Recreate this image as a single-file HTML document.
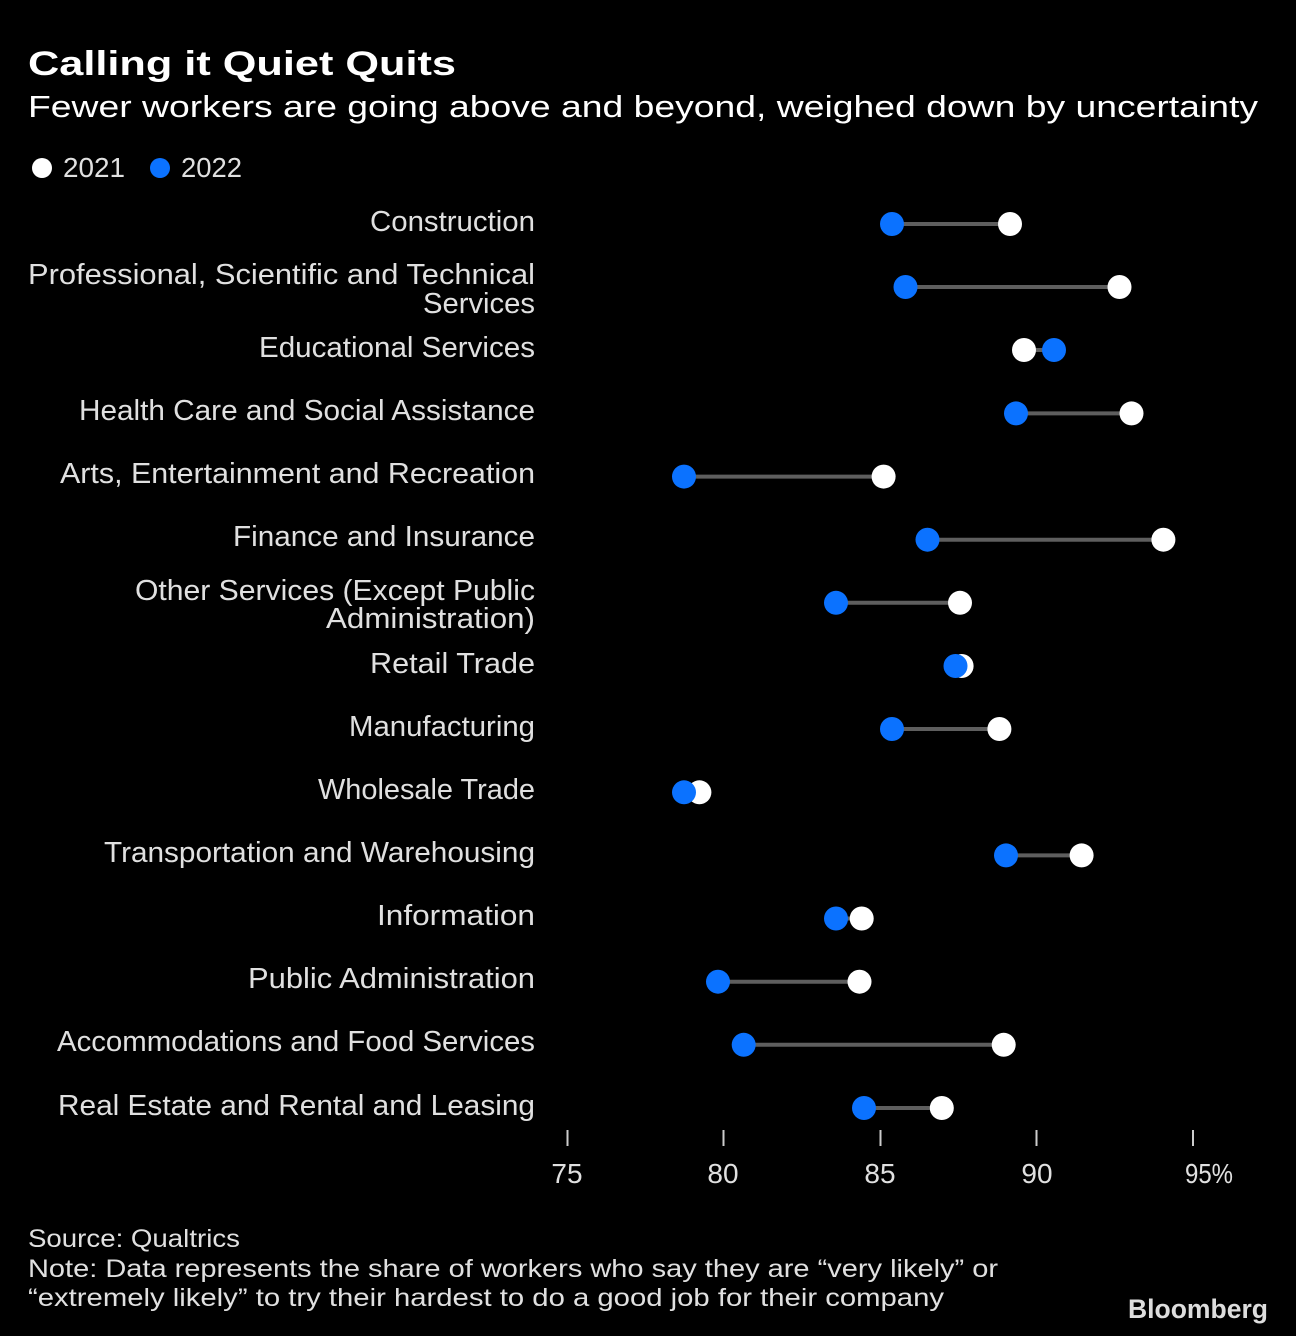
<!DOCTYPE html>
<html>
<head>
<meta charset="utf-8">
<style>
  html,body{margin:0;padding:0;background:#000;}
  svg{display:block;}
  text{font-family:"Liberation Sans", sans-serif;}
</style>
</head>
<body>
<svg width="1296" height="1336" viewBox="0 0 1296 1336" xmlns="http://www.w3.org/2000/svg">
  <rect width="1296" height="1336" fill="#000"/>

  <!-- Title -->
  <text x="28" y="75" font-size="34" font-weight="bold" fill="#ffffff" textLength="428" lengthAdjust="spacingAndGlyphs">Calling it Quiet Quits</text>
  <text x="28" y="117" font-size="31" fill="#ffffff" textLength="1230" lengthAdjust="spacingAndGlyphs">Fewer workers are going above and beyond, weighed down by uncertainty</text>

  <!-- Legend -->
  <circle cx="42" cy="168" r="10" fill="#ffffff"/>
  <text x="63" y="177" font-size="28" fill="#e0e0e0" textLength="62" lengthAdjust="spacingAndGlyphs">2021</text>
  <circle cx="160" cy="168" r="10" fill="#0b72ff"/>
  <text x="181" y="177" font-size="28" fill="#e0e0e0" textLength="61" lengthAdjust="spacingAndGlyphs">2022</text>

  <!-- Labels -->
  <g font-size="29" fill="#e0e0e0">
    <text x="370" y="231" textLength="165" lengthAdjust="spacingAndGlyphs">Construction</text>
    <text x="28" y="284" textLength="507" lengthAdjust="spacingAndGlyphs">Professional, Scientific and Technical</text>
    <text x="423" y="313" textLength="112" lengthAdjust="spacingAndGlyphs">Services</text>
    <text x="259" y="357" textLength="276" lengthAdjust="spacingAndGlyphs">Educational Services</text>
    <text x="79" y="420" textLength="456" lengthAdjust="spacingAndGlyphs">Health Care and Social Assistance</text>
    <text x="60" y="483" textLength="475" lengthAdjust="spacingAndGlyphs">Arts, Entertainment and Recreation</text>
    <text x="233" y="546" textLength="302" lengthAdjust="spacingAndGlyphs">Finance and Insurance</text>
    <text x="135" y="600" textLength="400" lengthAdjust="spacingAndGlyphs">Other Services (Except Public</text>
    <text x="326" y="628" textLength="209" lengthAdjust="spacingAndGlyphs">Administration)</text>
    <text x="370" y="673" textLength="165" lengthAdjust="spacingAndGlyphs">Retail Trade</text>
    <text x="349" y="736" textLength="186" lengthAdjust="spacingAndGlyphs">Manufacturing</text>
    <text x="318" y="799" textLength="217" lengthAdjust="spacingAndGlyphs">Wholesale Trade</text>
    <text x="104" y="862" textLength="431" lengthAdjust="spacingAndGlyphs">Transportation and Warehousing</text>
    <text x="377" y="925" textLength="158" lengthAdjust="spacingAndGlyphs">Information</text>
    <text x="248" y="988" textLength="287" lengthAdjust="spacingAndGlyphs">Public Administration</text>
    <text x="57" y="1051" textLength="478" lengthAdjust="spacingAndGlyphs">Accommodations and Food Services</text>
    <text x="58" y="1115" textLength="477" lengthAdjust="spacingAndGlyphs">Real Estate and Rental and Leasing</text>
  </g>

  <!-- Connectors -->
  <g stroke="#5e5e5e" stroke-width="4">
    <line x1="892" y1="224" x2="1010" y2="224"/>
    <line x1="905.5" y1="287" x2="1119.5" y2="287"/>
    <line x1="1024" y1="350" x2="1054" y2="350"/>
    <line x1="1016" y1="413.4" x2="1131.5" y2="413.4"/>
    <line x1="684" y1="476.6" x2="883.6" y2="476.6"/>
    <line x1="927.5" y1="539.7" x2="1163.4" y2="539.7"/>
    <line x1="836" y1="602.8" x2="960" y2="602.8"/>
    <line x1="955.5" y1="666" x2="961.6" y2="666"/>
    <line x1="892" y1="729" x2="999.4" y2="729"/>
    <line x1="684" y1="792.3" x2="699.4" y2="792.3"/>
    <line x1="1006" y1="855.4" x2="1081.6" y2="855.4"/>
    <line x1="836" y1="918.5" x2="861.7" y2="918.5"/>
    <line x1="718" y1="981.7" x2="859.5" y2="981.7"/>
    <line x1="743.7" y1="1044.8" x2="1003.7" y2="1044.8"/>
    <line x1="864" y1="1108" x2="941.8" y2="1108"/>
  </g>

  <!-- 2021 white dots -->
  <g fill="#ffffff">
    <circle cx="1010" cy="224" r="12"/>
    <circle cx="1119.5" cy="287" r="12"/>
    <circle cx="1024" cy="350" r="12"/>
    <circle cx="1131.5" cy="413.4" r="12"/>
    <circle cx="883.6" cy="476.6" r="12"/>
    <circle cx="1163.4" cy="539.7" r="12"/>
    <circle cx="960" cy="602.8" r="12"/>
    <circle cx="961.6" cy="666" r="12"/>
    <circle cx="999.4" cy="729" r="12"/>
    <circle cx="699.4" cy="792.3" r="12"/>
    <circle cx="1081.6" cy="855.4" r="12"/>
    <circle cx="861.7" cy="918.5" r="12"/>
    <circle cx="859.5" cy="981.7" r="12"/>
    <circle cx="1003.7" cy="1044.8" r="12"/>
    <circle cx="941.8" cy="1108" r="12"/>
  </g>

  <!-- 2022 blue dots -->
  <g fill="#0b72ff">
    <circle cx="892" cy="224" r="12"/>
    <circle cx="905.5" cy="287" r="12"/>
    <circle cx="1054" cy="350" r="12"/>
    <circle cx="1016" cy="413.4" r="12"/>
    <circle cx="684" cy="476.6" r="12"/>
    <circle cx="927.5" cy="539.7" r="12"/>
    <circle cx="836" cy="602.8" r="12"/>
    <circle cx="955.5" cy="666" r="12"/>
    <circle cx="892" cy="729" r="12"/>
    <circle cx="684" cy="792.3" r="12"/>
    <circle cx="1006" cy="855.4" r="12"/>
    <circle cx="836" cy="918.5" r="12"/>
    <circle cx="718" cy="981.7" r="12"/>
    <circle cx="743.7" cy="1044.8" r="12"/>
    <circle cx="864" cy="1108" r="12"/>
  </g>

  <!-- Axis ticks -->
  <g stroke="#cccccc" stroke-width="2">
    <line x1="567.5" y1="1130" x2="567.5" y2="1146"/>
    <line x1="723.5" y1="1130" x2="723.5" y2="1146"/>
    <line x1="880.5" y1="1130" x2="880.5" y2="1146"/>
    <line x1="1036.5" y1="1130" x2="1036.5" y2="1146"/>
    <line x1="1193" y1="1130" x2="1193" y2="1146"/>
  </g>
  <g font-size="28" fill="#e0e0e0">
    <text x="567" y="1183" text-anchor="middle">75</text>
    <text x="723" y="1183" text-anchor="middle">80</text>
    <text x="880" y="1183" text-anchor="middle">85</text>
    <text x="1037" y="1183" text-anchor="middle">90</text>
    <text x="1185" y="1183" textLength="48" lengthAdjust="spacingAndGlyphs">95%</text>
  </g>

  <!-- Footer -->
  <g font-size="25" fill="#e0e0e0">
    <text x="28" y="1247" textLength="212" lengthAdjust="spacingAndGlyphs">Source: Qualtrics</text>
    <text x="28" y="1277" textLength="970" lengthAdjust="spacingAndGlyphs">Note: Data represents the share of workers who say they are “very likely” or</text>
    <text x="28" y="1306" textLength="916" lengthAdjust="spacingAndGlyphs">“extremely likely” to try their hardest to do a good job for their company</text>
  </g>
  <text x="1128" y="1318" font-size="27" font-weight="bold" fill="#dddddd" textLength="140" lengthAdjust="spacingAndGlyphs">Bloomberg</text>
</svg>
</body>
</html>
